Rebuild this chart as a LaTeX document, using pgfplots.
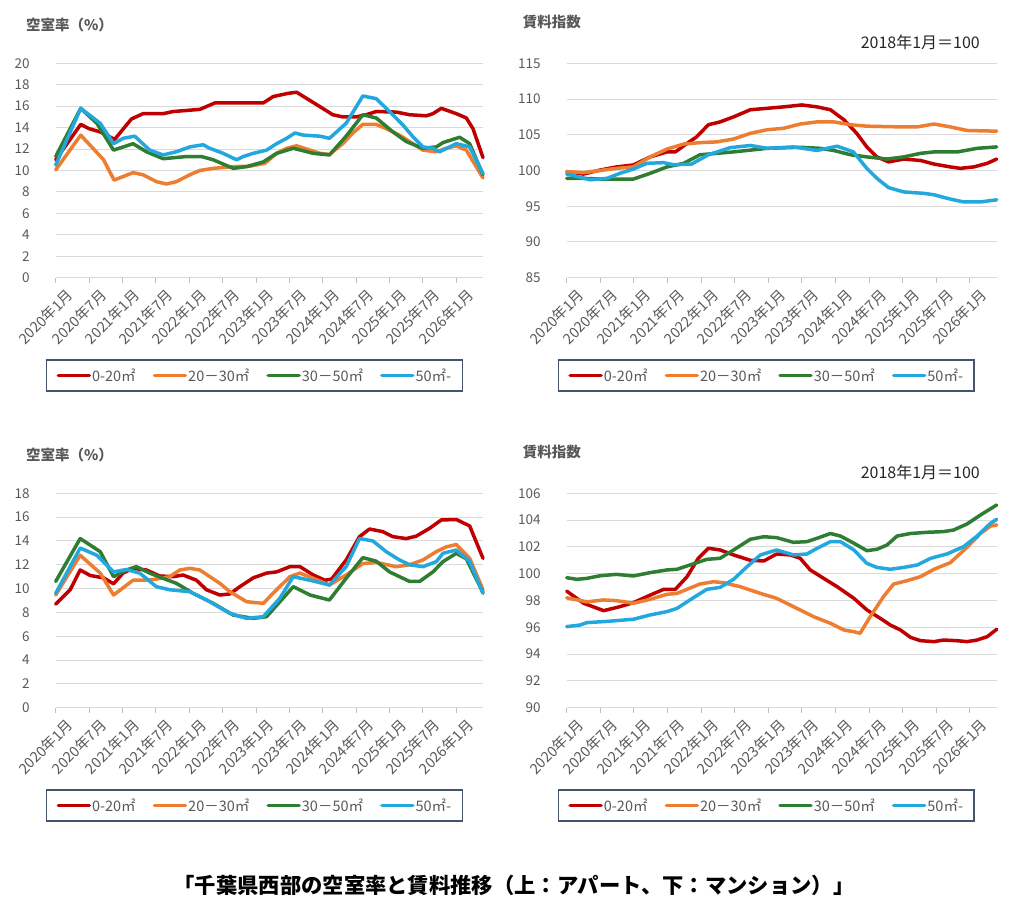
\documentclass[border=0pt]{standalone}
\usepackage{fontspec}
\setmainfont{Noto Sans CJK JP}
\usepackage{pgfplots}
\pgfplotsset{compat=1.18}
\definecolor{cred}{HTML}{C00000}
\definecolor{corange}{HTML}{ED7D31}
\definecolor{cgreen}{HTML}{2E7D32}
\definecolor{cblue}{HTML}{22A7DE}
\definecolor{tgray}{HTML}{595959}
\definecolor{ggray}{HTML}{D9D9D9}
\definecolor{tickgray}{HTML}{BFBFBF}
\definecolor{lbox}{HTML}{44546A}
\definecolor{tdark}{HTML}{262626}
\pgfplotsset{
  panel/.style={
    scale only axis,
    height=214.4bp,
    xmin=0, xmax=76.8,
    axis lines*=left,
    y axis line style={draw=none},
    x axis line style={draw=ggray, line width=1bp},
    ytick style={draw=none},
    xtick style={draw=tickgray, line width=1bp},
    tick align=outside,
    major tick length=5bp,
    ymajorgrids,
    grid style={ggray, line width=1bp},
    xtick={0,6,...,72},
    xticklabels={2020年1月,2020年7月,2021年1月,2021年7月,2022年1月,2022年7月,2023年1月,2023年7月,2024年1月,2024年7月,2025年1月,2025年7月,2026年1月},
    xticklabel style={rotate=45, anchor=north east, inner sep=0pt, xshift=3.6bp, yshift=-10bp,
      font=\fontsize{14.5bp}{16bp}\selectfont, text=tgray},
    yticklabel style={anchor=east, inner sep=0pt, xshift=-21bp,
      font=\fontsize{13.5bp}{16bp}\selectfont, text=tgray},
    /pgf/number format/assume math mode=true,
    clip=false,
    every axis plot/.append style={line width=3.5bp, line join=round, line cap=round, mark=none},
    legend columns=4,
    legend image code/.code={\draw[##1] (0bp,0bp) -- (31bp,0bp);},
    legend style={draw=lbox, line width=1.3bp, anchor=center,
      font=\fontsize{14.5bp}{17bp}\selectfont, text=tgray,
      nodes={inner sep=1bp},
      inner xsep=10bp, inner ysep=7.5bp,
      /tikz/every even column/.append style={column sep=16bp}},
    legend cell align=left,
  },
}
\begin{document}
\begin{tikzpicture}
\path[use as bounding box] (0bp,0bp) rectangle (1024bp,907bp);

% ---------- top left: apartment vacancy ----------
\begin{axis}[panel, width=427.3bp, at={(55.7bp,629.3bp)}, anchor=south west,
  ymin=0, ymax=20, ytick={0,2,...,20},
  legend style={at={(0.465,-0.456)}}]
\addplot[cred] coordinates {(0,11.0)(4.5,14.3)(6,13.9)(8,13.6)(10.6,12.9)(13.6,14.8)(15.7,15.3)(19.3,15.3)(21.1,15.5)(25.9,15.7)(28.6,16.3)(33.1,16.3)(37.3,16.3)(39.1,16.9)(41.8,17.2)(43.3,17.3)(47.5,15.95)(49.8,15.2)(51.6,15.0)(54,15.0)(55.8,15.2)(57.6,15.5)(61.2,15.45)(63.6,15.2)(66.6,15.1)(67.8,15.3)(69.3,15.8)(72,15.3)(73.8,14.9)(75,13.9)(76.8,11.2)};
\addlegendentry{0-20㎡}
\addplot[corange] coordinates {(0,10.05)(4.5,13.3)(8.6,11.0)(10.5,9.1)(13.9,9.8)(15.7,9.6)(18.1,8.96)(19.9,8.74)(21.7,8.96)(24.1,9.6)(25.9,10.0)(28.3,10.2)(31.9,10.36)(34.9,10.4)(37.6,10.67)(39.7,11.6)(41.5,12.07)(43.3,12.3)(45.1,12.0)(47.5,11.6)(49.2,11.5)(51.6,12.5)(53.4,13.5)(55.2,14.3)(57.6,14.3)(59.4,13.9)(61.8,13.3)(64.2,12.5)(66,11.9)(68.4,11.75)(70.2,12.07)(72,12.3)(73.8,11.9)(76.8,9.3)};
\addlegendentry{20－30㎡}
\addplot[cgreen] coordinates {(0,11.3)(4.5,15.8)(7.4,14.4)(10.4,11.9)(13.9,12.5)(16.3,11.75)(19.3,11.1)(23.5,11.3)(26.2,11.3)(28.3,11.0)(31.9,10.2)(34.3,10.36)(37.3,10.8)(39.7,11.6)(42.7,12.07)(46.3,11.6)(49.2,11.45)(52.2,13.2)(55.2,15.2)(57.6,14.9)(60.6,13.6)(63,12.7)(66,12.07)(68.4,12.2)(69.6,12.6)(72.6,13.1)(74.4,12.5)(76.8,9.6)};
\addlegendentry{30－50㎡}
\addplot[cblue] coordinates {(0,10.5)(4.5,15.8)(8,14.4)(10.4,12.5)(12.1,13.0)(14.2,13.2)(16.9,11.9)(19.3,11.45)(21.7,11.75)(24.1,12.2)(26.5,12.4)(27.7,12.07)(30.1,11.6)(32.5,11.0)(33.7,11.3)(35.5,11.6)(37.9,11.9)(39.7,12.5)(41.5,13.0)(43,13.5)(44.5,13.3)(47.5,13.2)(49.2,13.0)(52.2,14.4)(55.2,16.95)(57.6,16.7)(60,15.5)(62.4,14.25)(64.2,13.15)(66,12.2)(67.8,12.07)(69,11.75)(72,12.5)(74.4,12.2)(76.8,9.7)};
\addlegendentry{50㎡-}
\end{axis}

% ---------- top right: apartment rent index ----------
\begin{axis}[panel, width=430bp, at={(566.7bp,629.3bp)}, anchor=south west,
  ymin=85, ymax=115, ytick={85,90,...,115},
  legend style={at={(0.464,-0.456)}}]
\addplot[cred] coordinates {(0,99.84)(3,99.5)(6,100.07)(8.9,100.5)(11.9,100.77)(14.9,101.9)(17.9,102.6)(19.4,102.6)(21.5,103.8)(23.2,104.7)(25.3,106.4)(27.4,106.8)(29.8,107.5)(32.8,108.5)(35.8,108.7)(38.7,108.9)(42,109.17)(44.7,108.9)(47.1,108.5)(49.5,107.1)(51.8,105.2)(53.6,103.3)(55.4,101.9)(57.5,101.2)(60.2,101.6)(63.2,101.4)(65.6,100.9)(68.5,100.5)(70.3,100.3)(72.7,100.5)(75.1,101.0)(76.8,101.6)};
\addlegendentry{0-20㎡}
\addplot[corange] coordinates {(0,99.84)(3,99.7)(6,100.0)(8.9,100.3)(11.9,100.5)(14.9,101.9)(17.9,103.0)(20.9,103.7)(23.8,103.9)(26.8,104.0)(29.8,104.4)(32.8,105.2)(35.8,105.7)(38.7,105.9)(41.7,106.5)(44.7,106.8)(47.7,106.8)(50.7,106.4)(53.6,106.2)(59.6,106.1)(62.6,106.1)(65.6,106.5)(68.5,106.1)(71.5,105.6)(76.8,105.5)};
\addlegendentry{20－30㎡}
\addplot[cgreen] coordinates {(0,98.9)(3,98.9)(6,98.8)(8.9,98.8)(11.9,98.8)(14.9,99.6)(17.9,100.5)(20.9,101.0)(23.8,102.2)(26.8,102.4)(29.8,102.6)(35.8,103.1)(41.7,103.25)(45.3,103.1)(47.7,102.8)(50.7,102.2)(53.6,101.9)(57.2,101.6)(60.2,101.9)(63.2,102.4)(65.6,102.6)(69.8,102.6)(73.3,103.1)(76.8,103.3)};
\addlegendentry{30－50㎡}
\addplot[cblue] coordinates {(0,99.5)(4.2,98.7)(7.2,98.9)(9.5,99.6)(11.9,100.2)(14.3,101.0)(17.3,101.1)(19.1,100.8)(22.3,100.9)(25.3,102.2)(29.2,103.2)(32.8,103.5)(35.8,103.1)(40.5,103.3)(44.7,102.8)(48.3,103.4)(51.2,102.6)(53.6,100.3)(55.4,98.9)(57.5,97.6)(60.2,97.0)(63.8,96.8)(65.6,96.6)(68.5,96.0)(70.9,95.6)(73.9,95.6)(76.8,95.9)};
\addlegendentry{50㎡-}
\end{axis}

% ---------- bottom left: mansion vacancy ----------
\begin{axis}[panel, width=427.3bp, at={(55.7bp,199.3bp)}, anchor=south west,
  ymin=0, ymax=18, ytick={0,2,...,18},
  legend style={at={(0.465,-0.456)}}]
\addplot[cred] coordinates {(0,8.7)(2.6,9.9)(4.4,11.56)(6.2,11.1)(8.6,10.9)(10.4,10.4)(12.1,11.3)(13.9,11.7)(16.3,11.56)(18.7,11.06)(21.1,11.0)(22.9,11.14)(25.3,10.7)(27.1,9.9)(29.5,9.46)(31.3,9.55)(33.1,10.16)(35.5,10.9)(37.9,11.3)(39.7,11.4)(42.1,11.84)(43.9,11.84)(46.3,11.14)(48.4,10.7)(49.6,10.8)(52.2,12.4)(54.6,14.36)(56.4,15.0)(58.8,14.78)(60.6,14.36)(63,14.2)(64.8,14.4)(67.2,15.06)(69.3,15.76)(72,15.8)(74.4,15.26)(76.8,12.54)};
\addlegendentry{0-20㎡}
\addplot[corange] coordinates {(0,9.46)(4.4,12.8)(8,11.3)(10.4,9.46)(13.9,10.7)(16.3,10.7)(18.1,10.8)(20.5,11.0)(22.3,11.56)(24.1,11.7)(25.9,11.56)(27.7,11.0)(29.5,10.44)(31.3,9.74)(34.3,8.9)(37.3,8.76)(39.7,9.9)(42.1,11.0)(43.9,11.3)(46.3,10.86)(49.2,10.3)(52.2,11.14)(55.2,12.1)(57.6,12.2)(61.2,11.84)(63.6,12.0)(66,12.4)(68.4,13.1)(70.2,13.5)(72,13.7)(74.4,12.54)(76.8,9.9)};
\addlegendentry{20－30㎡}
\addplot[cgreen] coordinates {(0,10.6)(4.4,14.2)(8,13.1)(10.4,11.0)(12.7,11.56)(14.5,11.84)(16.9,11.3)(19.3,10.86)(21.7,10.44)(24.7,9.6)(28.3,8.76)(31.9,7.78)(35.5,7.5)(37.9,7.64)(40.3,8.9)(42.7,10.16)(45.7,9.46)(49.2,9.04)(52.2,10.86)(55.2,12.6)(57.6,12.3)(60,11.4)(61.8,11.0)(63.6,10.6)(65.4,10.6)(67.8,11.4)(69.6,12.26)(72,12.96)(73.8,12.5)(76.8,9.66)};
\addlegendentry{30－50㎡}
\addplot[cblue] coordinates {(0,9.6)(4.4,13.4)(7.4,12.8)(10.4,11.4)(12.7,11.6)(15.1,11.3)(18.1,10.16)(20.5,9.9)(24.1,9.74)(27.7,8.9)(31.3,7.92)(34.3,7.5)(37.3,7.64)(40.3,9.2)(42.7,11.0)(45.7,10.7)(49.2,10.3)(52.2,11.84)(54.6,14.2)(57,14.0)(59.4,13.1)(61.8,12.4)(63.6,12.0)(66,11.84)(68.4,12.26)(69.6,12.96)(72,13.24)(74.4,12.26)(76.8,9.6)};
\addlegendentry{50㎡-}
\end{axis}

% ---------- bottom right: mansion rent index ----------
\begin{axis}[panel, width=430bp, at={(566.7bp,199.3bp)}, anchor=south west,
  ymin=90, ymax=106, ytick={90,92,...,106},
  legend style={at={(0.464,-0.456)}}]
\addplot[cred] coordinates {(0,98.7)(3,97.8)(6.6,97.24)(9.5,97.54)(11.9,97.84)(14.9,98.4)(17.3,98.83)(19.4,98.83)(21.5,99.78)(23.5,101.15)(25.3,101.9)(27.4,101.77)(29.8,101.4)(32.8,101.0)(35.2,100.95)(37.5,101.47)(39.9,101.4)(41.7,101.15)(43.5,100.28)(45.9,99.65)(48.3,99.03)(51.3,98.16)(53.6,97.3)(56,96.67)(57.8,96.17)(59.6,95.8)(61.4,95.25)(63.2,95.0)(65.6,94.93)(67.3,95.05)(69.7,95.0)(71.5,94.93)(73.3,95.05)(75.1,95.3)(76.8,95.85)};
\addlegendentry{0-20㎡}
\addplot[corange] coordinates {(0,98.2)(3.6,97.9)(6.6,98.04)(8.9,97.99)(11.9,97.79)(14.9,98.09)(17.9,98.46)(19.7,98.53)(23.8,99.23)(26.2,99.4)(28,99.33)(31,99.03)(34.6,98.53)(37.5,98.16)(40.5,97.54)(44.1,96.79)(47.1,96.3)(49.5,95.8)(51.3,95.67)(52.4,95.55)(54.2,96.79)(56.6,98.3)(58.4,99.23)(60.8,99.48)(63.2,99.78)(65.6,100.33)(68.5,100.82)(71.5,101.97)(73.9,103.0)(75.7,103.56)(76.8,103.64)};
\addlegendentry{20－30㎡}
\addplot[cgreen] coordinates {(0,99.7)(1.8,99.58)(3.6,99.65)(6,99.85)(8.9,99.95)(11.9,99.83)(14.9,100.08)(17.9,100.28)(19.7,100.33)(22,100.65)(25,101.07)(27.4,101.15)(29.8,101.77)(32.8,102.57)(35.2,102.76)(37.5,102.69)(40.5,102.34)(42.9,102.39)(44.7,102.64)(47.1,103.0)(48.9,102.81)(51.3,102.27)(53.6,101.72)(55.4,101.82)(57.2,102.14)(59,102.81)(61.4,103.0)(64.4,103.09)(67.3,103.14)(69.1,103.26)(71.5,103.71)(73.9,104.38)(76.8,105.13)};
\addlegendentry{30－50㎡}
\addplot[cblue] coordinates {(0,96.05)(2.4,96.17)(3.6,96.35)(7.2,96.44)(11.9,96.6)(14.9,96.92)(17.9,97.17)(19.7,97.41)(22,98.04)(25,98.83)(27.4,98.98)(29.8,99.58)(32.2,100.52)(34.6,101.4)(37.5,101.77)(40.5,101.4)(42.9,101.47)(44.7,101.89)(47.1,102.39)(48.9,102.39)(51.3,101.77)(53.6,100.77)(55.4,100.47)(57.8,100.33)(60.2,100.47)(62.6,100.65)(65,101.15)(67.9,101.47)(70.9,102.02)(73.3,102.81)(75.7,103.76)(76.8,104.06)};
\addlegendentry{50㎡-}
\end{axis}

% ---------- titles ----------
\node[anchor=west, inner sep=0pt, text=tgray, font=\fontsize{14.5bp}{17bp}\selectfont\bfseries] at (26bp,882bp) {空室率（\%）};
\node[anchor=west, inner sep=0pt, text=tgray, font=\fontsize{14.5bp}{17bp}\selectfont\bfseries] at (522.7bp,885bp) {賃料指数};
\node[anchor=east, inner sep=0pt, text=tdark, font=\fontsize{16bp}{19bp}\selectfont] at (980bp,864.3bp) {2018年1月＝100};
\node[anchor=west, inner sep=0pt, text=tgray, font=\fontsize{14.5bp}{17bp}\selectfont\bfseries] at (26bp,452bp) {空室率（\%）};
\node[anchor=west, inner sep=0pt, text=tgray, font=\fontsize{14.5bp}{17bp}\selectfont\bfseries] at (522.7bp,455bp) {賃料指数};
\node[anchor=east, inner sep=0pt, text=tdark, font=\fontsize{16bp}{19bp}\selectfont] at (980bp,434.3bp) {2018年1月＝100};
\node[inner sep=0pt, text=black, font=\fontsize{21.3bp}{25bp}\selectfont\bfseries] at (514bp,22bp) {「千葉県西部の空室率と賃料推移（上：アパート、下：マンション）」};
\end{tikzpicture}
\end{document}
